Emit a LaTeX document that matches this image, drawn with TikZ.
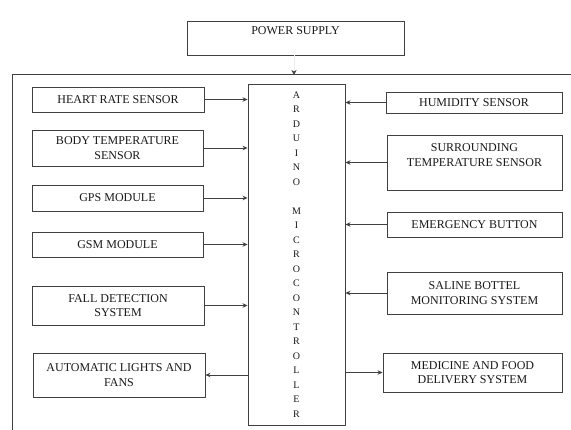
\documentclass[tikz,border=0pt]{standalone}
\usepackage{fontspec}
\setmainfont{Liberation Serif}
\usetikzlibrary{arrows.meta}
\definecolor{ln}{gray}{0.25}
\definecolor{tx}{gray}{0.1}
\tikzset{
  blk/.style={draw=ln, line width=0.9pt, rectangle, inner sep=0pt, align=center,
    text=tx, font=\fontsize{12}{14.5}\selectfont},
  conn/.style={draw=ln, line width=0.8pt, -{Stealth[length=5pt,width=4.5pt]}},
}
\begin{document}
\begin{tikzpicture}[x=1pt,y=-1pt]
\useasboundingbox (0,0) rectangle (571,430);
\fill[white] (0,0) rectangle (571,430);
\clip (0,0) rectangle (571,430);
% outer frame
\draw[ln, line width=1pt] (12,75) rectangle (620,480);
% blocks
\node[blk, minimum width=217pt, minimum height=34pt] (ps) at (295.5,38) {POWER SUPPLY\\\mbox{}};
\node[blk, minimum width=172pt, minimum height=25pt] (hr) at (118,99.5) {HEART RATE SENSOR};
\node[blk, minimum width=171pt, minimum height=36pt] (bt) at (117.5,148) {BODY TEMPERATURE\\SENSOR};
\node[blk, minimum width=171pt, minimum height=26pt] (gps) at (117.5,198) {GPS MODULE};
\node[blk, minimum width=171pt, minimum height=25pt] (gsm) at (117.5,244.5) {GSM MODULE};
\node[blk, minimum width=172pt, minimum height=39pt] (fall) at (118,305.5) {FALL DETECTION\\SYSTEM};
\node[blk, minimum width=172pt, minimum height=44pt] (auto) at (119,375) {AUTOMATIC LIGHTS AND\\FANS};
\node[blk, minimum width=176pt, minimum height=21pt] (hum) at (474,102.5) {HUMIDITY SENSOR};
\node[blk, minimum width=175pt, minimum height=55pt] (surr) at (474.5,162.5) {SURROUNDING\\TEMPERATURE SENSOR\\\mbox{}};
\node[blk, minimum width=175pt, minimum height=25pt] (emg) at (474.5,224.5) {EMERGENCY BUTTON};
\node[blk, minimum width=175pt, minimum height=42pt] (sal) at (474.5,293) {SALINE BOTTEL\\MONITORING SYSTEM};
\node[blk, minimum width=179pt, minimum height=39pt] (med) at (472.5,372.5) {MEDICINE AND FOOD\\DELIVERY SYSTEM};
\node[blk, minimum width=97pt, minimum height=341pt, font=\fontsize{10}{14.5}\selectfont] (ard) at (296.5,254.5)
  {A\\R\\D\\U\\I\\N\\O\\\mbox{}\\M\\I\\C\\R\\O\\C\\O\\N\\T\\R\\O\\L\\L\\E\\R};
% power arrow
\coordinate (ft) at (294,75);
\draw[draw=gray!15, line width=0.5pt, -{Stealth[length=5pt,width=5pt,color=ln]}] (ps.south -| ft) -- (ft);
% inputs
\draw[conn] (hr.east) -- (hr.east -| ard.west);
\draw[conn] (bt.east) -- (bt.east -| ard.west);
\draw[conn] (gps.east) -- (gps.east -| ard.west);
\draw[conn] (gsm.east) -- (gsm.east -| ard.west);
\draw[conn] (fall.east) -- (fall.east -| ard.west);
\draw[conn] (auto.east -| ard.west) -- (auto.east);
\draw[conn] (hum.west) -- (hum.west -| ard.east);
\draw[conn] (surr.west) -- (surr.west -| ard.east);
\draw[conn] (emg.west) -- (emg.west -| ard.east);
\draw[conn] (sal.west) -- (sal.west -| ard.east);
\draw[conn] (med.west -| ard.east) -- (med.west);
\end{tikzpicture}
\end{document}
